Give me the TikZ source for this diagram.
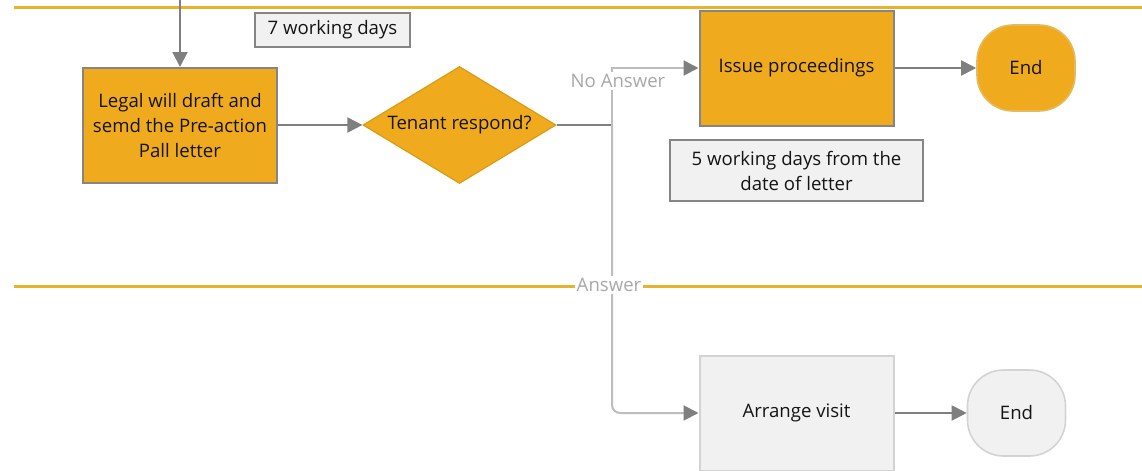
\documentclass[tikz,border=0pt]{standalone}
\usepackage{fontspec}
\setmainfont{Open Sans}
\usetikzlibrary{arrows.meta,shapes.geometric}
\definecolor{lanecol}{HTML}{E8B22C}
\definecolor{boxyellow}{HTML}{EFAB1D}
\definecolor{edgeyellow}{HTML}{D99C18}
\definecolor{boxgrey}{HTML}{F1F1F1}
\definecolor{edgegrey}{HTML}{858585}
\definecolor{softgrey}{HTML}{D3D3D3}
\definecolor{arrowgrey}{HTML}{7F7F7F}
\definecolor{linegrey}{HTML}{BDBDBD}
\definecolor{labelgrey}{HTML}{A8A8A8}
\definecolor{ink}{HTML}{141414}

\begin{document}
\begin{tikzpicture}[x=0.5pt,y=-0.5pt,
    font=\fontsize{9.3}{12.5}\selectfont, text=ink,
    lane/.style={draw=lanecol,line width=1.5pt},
    process/.style={rectangle,draw=edgegrey,line width=1pt,fill=boxyellow,
      minimum width=97pt,minimum height=57.5pt,inner sep=0pt,align=center},
    decision/.style={diamond,draw=edgeyellow,line width=0.6pt,fill=boxyellow,
      minimum width=96.5pt,minimum height=58.5pt,inner sep=0pt},
    terminal/.style={rectangle,rounded corners=18pt,draw=edgeyellow!70,line width=0.8pt,
      fill=boxyellow,minimum width=49pt,minimum height=43pt,inner sep=0pt},
    notebox/.style={rectangle,draw=edgegrey,line width=0.8pt,fill=boxgrey,
      inner sep=0pt,align=center},
    greybox/.style={fill=boxgrey,draw=softgrey},
    flow/.style={draw=arrowgrey,line width=1pt,-{Triangle[length=7.5pt,width=7.5pt]}},
    branch/.style={draw=linegrey,line width=1pt,
      -{Triangle[length=7.5pt,width=7.5pt,color=arrowgrey]}},
    lbl/.style={text=labelgrey,fill=white,inner sep=1pt}]
  \useasboundingbox (0,0) rectangle (1142,471);

  % swimlane separators
  \coordinate (laneAw) at (14,7);
  \coordinate (laneAe) at (1142,7);
  \coordinate (laneBw) at (14,286);
  \coordinate (laneBe) at (1142,286);
  \draw[lane] (laneAw) -- (laneAe);
  \draw[lane] (laneBw) -- (laneBe);

  % steps
  \node[process] (legal) at (180,125.5) {Legal will draft and\\semd the Pre-action\\Pall letter};
  \node[decision,label={center:Tenant respond?}] (respond) at (459.5,125) {};
  \node[process] (issue) at (796.5,68) {Issue proceedings};
  \node[terminal] (endA) at (1026,68) {End};
  \node[process,greybox] (visit) at (796.5,413) {Arrange visit};
  \node[terminal,greybox] (endB) at (1016.5,413) {End};

  % timings
  \node[notebox,minimum width=77.5pt,minimum height=17pt] (seven) at (332.5,30) {7 working days};
  \node[notebox,minimum width=126.5pt,minimum height=30.5pt] (five) at (796.5,170.5) {5 working days from the\\date of letter};

  % connectors
  \coordinate (in) at (180,0);
  \coordinate (split) at (612,125);
  \draw[flow] (in) -- (legal);
  \draw[flow] (legal.east |- respond.west) -- (respond.west);
  \draw[draw=arrowgrey,line width=1pt] (respond.east) -- (split);
  \draw[branch] (split) |- (issue.west);
  \draw[branch,rounded corners=4pt] (split) |- (visit.west);
  \draw[flow] (issue) -- (endA);
  \draw[flow] (visit) -- (endB);

  % branch labels
  \node[lbl] (noanswer) at (618,81) {No Answer};
  \node[lbl] (answer) at (609,285) {Answer};
\end{tikzpicture}
\end{document}
